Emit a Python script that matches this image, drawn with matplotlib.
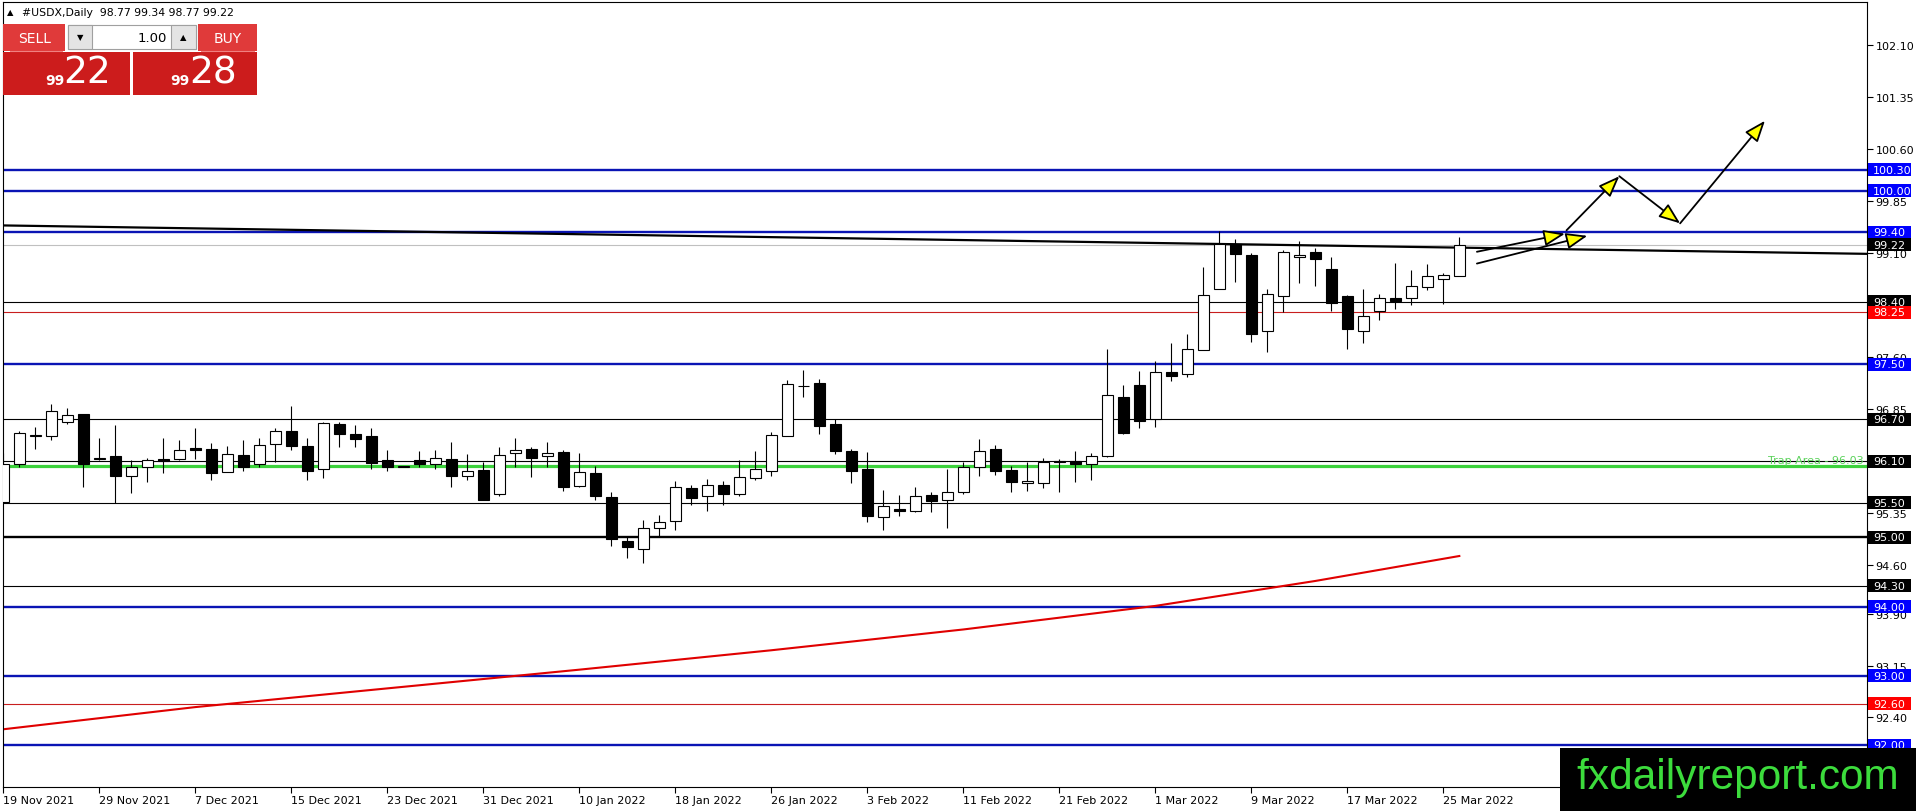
import matplotlib
matplotlib.use("Agg")
import matplotlib.pyplot as plt
import matplotlib.transforms as mtransforms
from matplotlib.patches import Rectangle, FancyArrowPatch

# daily candles, 19 Nov 2021 .. 28 Mar 2022 (bar index = trading day)
opens = [95.51, 96.06, 96.46, 96.46, 96.67, 96.78, 96.13, 96.18, 95.88, 96.02,
         96.13, 96.13, 96.29, 96.27, 95.94, 96.19, 96.06, 96.34, 96.53, 96.32,
         95.98, 96.64, 96.49, 96.46, 96.12, 96.02, 96.12, 96.06, 96.13, 95.88,
         95.97, 95.62, 96.21, 96.27, 96.17, 96.23, 95.74, 95.93, 95.58, 94.95,
         94.83, 95.13, 95.23, 95.71, 95.59, 95.76, 95.62, 95.85, 95.95, 96.46,
         97.18, 97.23, 96.64, 96.25, 95.99, 95.30, 95.41, 95.38, 95.61, 95.54,
         95.65, 96.02, 96.27, 95.97, 95.78, 95.79, 96.10, 96.10, 96.06, 96.18,
         97.03, 97.20, 96.70, 97.38, 97.35, 97.70, 98.59, 99.23, 99.07, 97.97,
         98.48, 99.04, 99.11, 98.87, 98.48, 97.97, 98.26, 98.46, 98.46, 98.61,
         98.72, 98.77]
highs = [96.22, 96.53, 96.59, 96.92, 96.86, 96.78, 96.43, 96.62, 96.11, 96.15,
         96.43, 96.40, 96.58, 96.36, 96.32, 96.40, 96.43, 96.58, 96.90, 96.43,
         96.66, 96.67, 96.62, 96.58, 96.26, 96.03, 96.25, 96.26, 96.38, 96.20,
         96.08, 96.30, 96.43, 96.30, 96.37, 96.26, 96.21, 96.03, 95.66, 95.00,
         95.25, 95.32, 95.81, 95.76, 95.84, 95.81, 96.11, 96.25, 96.52, 97.27,
         97.41, 97.28, 96.70, 96.27, 96.23, 95.68, 95.61, 95.72, 95.65, 95.99,
         96.08, 96.42, 96.33, 96.03, 96.08, 96.14, 96.13, 96.24, 96.22, 97.72,
         97.20, 97.40, 97.55, 97.81, 97.93, 98.90, 99.42, 99.30, 99.10, 98.58,
         99.15, 99.27, 99.18, 99.05, 98.50, 98.59, 98.51, 98.96, 98.86, 98.94,
         98.81, 99.34]
lows = [95.49, 96.01, 96.27, 96.40, 96.63, 95.72, 96.12, 95.49, 95.64, 95.80,
        95.93, 96.11, 96.13, 95.82, 95.94, 95.95, 96.02, 96.08, 96.26, 95.82,
        95.85, 96.31, 96.31, 95.99, 95.96, 96.01, 96.02, 95.98, 95.73, 95.83,
        95.54, 95.60, 96.01, 95.87, 96.01, 95.67, 95.72, 95.54, 94.88, 94.70,
        94.63, 95.01, 95.10, 95.46, 95.38, 95.47, 95.60, 95.83, 95.88, 96.46,
        97.03, 96.49, 96.20, 95.78, 95.22, 95.11, 95.31, 95.37, 95.36, 95.13,
        95.63, 95.88, 95.90, 95.65, 95.67, 95.71, 95.66, 95.80, 95.82, 96.16,
        96.49, 96.58, 96.59, 97.26, 97.32, 97.70, 98.59, 98.69, 97.82, 97.68,
        98.25, 98.67, 98.62, 98.27, 97.71, 97.81, 98.13, 98.29, 98.35, 98.57,
        98.37, 98.77]
closes = [96.06, 96.50, 96.47, 96.82, 96.76, 96.06, 96.14, 95.88, 96.01, 96.11,
          96.10, 96.26, 96.26, 95.93, 96.20, 96.02, 96.33, 96.53, 96.32, 95.96,
          96.65, 96.49, 96.42, 96.07, 96.02, 96.02, 96.06, 96.14, 95.88, 95.95,
          95.54, 96.19, 96.26, 96.14, 96.21, 95.72, 95.94, 95.59, 94.98, 94.86,
          95.14, 95.22, 95.72, 95.57, 95.76, 95.62, 95.87, 95.98, 96.48, 97.21,
          97.19, 96.61, 96.24, 95.96, 95.31, 95.45, 95.38, 95.59, 95.53, 95.66,
          96.01, 96.25, 95.95, 95.80, 95.81, 96.08, 96.09, 96.06, 96.17, 97.06,
          96.51, 96.68, 97.38, 97.33, 97.71, 98.49, 99.23, 99.09, 97.94, 98.51,
          99.11, 99.07, 99.01, 98.38, 98.00, 98.20, 98.45, 98.41, 98.62, 98.77,
          98.79, 99.22]

date_ticks = [0, 6, 12, 18, 24, 30, 36, 42, 48, 54, 60, 66, 72, 78, 84, 90]
date_labels = ["19 Nov 2021", "29 Nov 2021", "7 Dec 2021", "15 Dec 2021",
               "23 Dec 2021", "31 Dec 2021", "10 Jan 2022", "18 Jan 2022",
               "26 Jan 2022", "3 Feb 2022", "11 Feb 2022", "21 Feb 2022",
               "1 Mar 2022", "9 Mar 2022", "17 Mar 2022", "25 Mar 2022"]
# scale values that stay readable (98.35 and 96.10 are covered by level labels)
price_ticks = [102.10, 101.35, 100.60, 99.85, 99.10, 97.60, 96.85,
               95.35, 94.60, 93.90, 93.15, 92.40]

# horizontal levels drawn on the chart
levels = [100.30, 100.00, 99.40, 98.40, 98.25, 97.50, 96.70, 96.10, 95.50,
          95.00, 94.30, 94.00, 93.00, 92.60, 92.00]
level_kinds = ["blue", "blue", "blue", "black", "red", "blue", "black", "black",
               "black", "black2", "black", "blue", "blue", "red", "blue"]
bid_price = 99.22
trap_price = 96.03

# red moving average, sampled at a few bars
ma_x = [0, 12, 24, 36, 48, 60, 72, 82, 91]
ma_y = [92.23, 92.55, 92.82, 93.09, 93.37, 93.67, 94.01, 94.37, 94.73]

# black trend line across the chart
trend_x = [0, 116.5]
trend_y = [99.50, 99.09]

# projected path arrows
arrow_a = [(92.1, 99.12), (97.6, 99.38)]
arrow_b = [(92.1, 98.95), (99.0, 99.35)]
zigzag = [(97.7, 99.43), (101.0, 100.21), (104.8, 99.53), (110.1, 101.01)]

header = "#USDX,Daily  98.77 99.34 98.77 99.22"

styles = {
    "blue": dict(line="#0a14b4", lw=1.7, box="#0000ff"),
    "black": dict(line="black", lw=0.8, box="black"),
    "black2": dict(line="black", lw=1.7, box="black"),
    "red": dict(line="#c81e1e", lw=0.8, box="#ff0000"),
}

W, H = 1916, 812
fig = plt.figure(figsize=(W / 100, H / 100), dpi=100)
fig.patch.set_facecolor("white")
ax = fig.add_axes([3 / W, (H - 788) / H, 1864 / W, 785 / H])
ax.set_xlim(-0.02, 116.48)
ax.set_ylim(91.397, 102.724)
ax.set_facecolor("white")
for sp in ax.spines.values():
    sp.set_color("black")
    sp.set_linewidth(0.8)

# levels
for lv, kind in zip(levels, level_kinds):
    st = styles[kind]
    ax.axhline(lv, color=st["line"], lw=st["lw"], zorder=1)
ax.axhline(bid_price, color="#c0c0c0", lw=0.8, zorder=1)
ax.axhline(trap_price, color="#3cd23c", lw=2.3, zorder=1)
ax.text(116.3, trap_price + 0.02, "Trap Area - 96.03", color="#5ad25a",
        fontsize=8, ha="right", va="bottom", zorder=2)

# moving average & trend line
ax.plot(ma_x, ma_y, color="#e00000", lw=1.5, zorder=2)
ax.plot(trend_x, trend_y, color="black", lw=1.6, zorder=2)

# candles
idx = list(range(len(opens)))
ax.vlines(idx, lows, highs, color="black", lw=0.8, zorder=3)
bottoms = [min(o, c) for o, c in zip(opens, closes)]
heights = [max(abs(c - o), 0.004) for o, c in zip(opens, closes)]
colors = ["white" if c >= o else "black" for o, c in zip(opens, closes)]
ax.bar(idx, heights, bottom=bottoms, width=0.66, color=colors,
       edgecolor="black", linewidth=0.8, zorder=4)

# arrows
def draw_arrow(p0, p1):
    arr = FancyArrowPatch(p0, p1, arrowstyle="-|>,head_length=13,head_width=5",
                          mutation_scale=1, shrinkA=0, shrinkB=0,
                          facecolor="#ffff00", edgecolor="black", lw=1.3,
                          zorder=6)
    ax.add_patch(arr)

draw_arrow(*arrow_a)
draw_arrow(*arrow_b)
for p0, p1 in zip(zigzag[:-1], zigzag[1:]):
    draw_arrow(p0, p1)

# axes ticks
ax.yaxis.tick_right()
ax.set_yticks(price_ticks)
ax.set_yticklabels([f"{t:.2f}" for t in price_ticks])
ax.tick_params(axis="y", length=4, width=0.8, pad=2, labelsize=8)
ax.set_xticks(date_ticks)
ax.set_xticklabels(date_labels)
ax.tick_params(axis="x", length=4, width=0.8, pad=2, labelsize=8)
for lbl in ax.get_xticklabels():
    lbl.set_ha("left")

# price labels on the right scale
trans = mtransforms.blended_transform_factory(ax.transAxes, ax.transData)
box_w = 43 / 1864
box_h = 13 / 69.3
label_list = [(lv, styles[k]["box"]) for lv, k in zip(levels, level_kinds)]
label_list.append((bid_price, "black"))
for lv, col in label_list:
    ax.add_patch(Rectangle((1 + 1 / 1864, lv - box_h / 2), box_w, box_h,
                           transform=trans, clip_on=False, facecolor=col,
                           edgecolor="none", zorder=10))
    ax.text(1 + 6 / 1864, lv, f"{lv:.2f}", transform=trans, color="white",
            fontsize=8, ha="left", va="center", zorder=11, clip_on=False)

# overlay: trade panel, header, watermark (pixel coordinates)
ov = fig.add_axes([0, 0, 1, 1])
ov.set_xlim(0, W)
ov.set_ylim(H, 0)
ov.axis("off")
ov.patch.set_alpha(0)

ov.text(7, 13, "\u25b2", fontsize=6, va="center", ha="left")
ov.text(22, 13, header, fontsize=7.8, va="center", ha="left")

red_top = "#e03a3a"
red_low = "#cc1c1c"
ov.add_patch(Rectangle((3, 25), 62, 27, facecolor=red_top, edgecolor="none"))
ov.add_patch(Rectangle((198, 25), 59, 27, facecolor=red_top, edgecolor="none"))
ov.add_patch(Rectangle((68, 26), 128, 24, facecolor="white", edgecolor="#a0a0a0", lw=0.8))
ov.add_patch(Rectangle((68, 26), 24, 24, facecolor="#e4e4e4", edgecolor="#a0a0a0", lw=0.8))
ov.add_patch(Rectangle((171, 26), 25, 24, facecolor="#e4e4e4", edgecolor="#a0a0a0", lw=0.8))
ov.add_patch(Rectangle((3, 53), 127, 43, facecolor=red_low, edgecolor="none"))
ov.add_patch(Rectangle((133, 53), 124, 43, facecolor=red_low, edgecolor="none"))
ov.plot([10, 62], [51.5, 51.5], color="#f08080", lw=0.8)
ov.plot([201, 254], [51.5, 51.5], color="#f08080", lw=0.8)
ov.text(35, 39, "SELL", color="white", fontsize=10, ha="center", va="center")
ov.text(228, 39, "BUY", color="white", fontsize=10, ha="center", va="center")
ov.text(80, 38, "\u25bc", fontsize=6, ha="center", va="center")
ov.text(183, 38, "\u25b2", fontsize=6, ha="center", va="center")
ov.text(167, 38, "1.00", fontsize=9.5, ha="right", va="center")
ov.text(54.5, 81, "99", color="white", fontsize=10, fontweight="bold", ha="center", va="center")
ov.text(87, 73, "22", color="white", fontsize=27, ha="center", va="center")
ov.text(179.5, 81, "99", color="white", fontsize=10, fontweight="bold", ha="center", va="center")
ov.text(213, 73, "28", color="white", fontsize=27, ha="center", va="center")

ov.add_patch(Rectangle((1560, 749), 356, 63, facecolor="black", edgecolor="none"))
ov.text(1738, 778, "fxdailyreport.com", color="#3cdc3c", fontsize=30.5,
        family="Liberation Sans", ha="center", va="center")

fig.savefig("out.png", dpi=100)
